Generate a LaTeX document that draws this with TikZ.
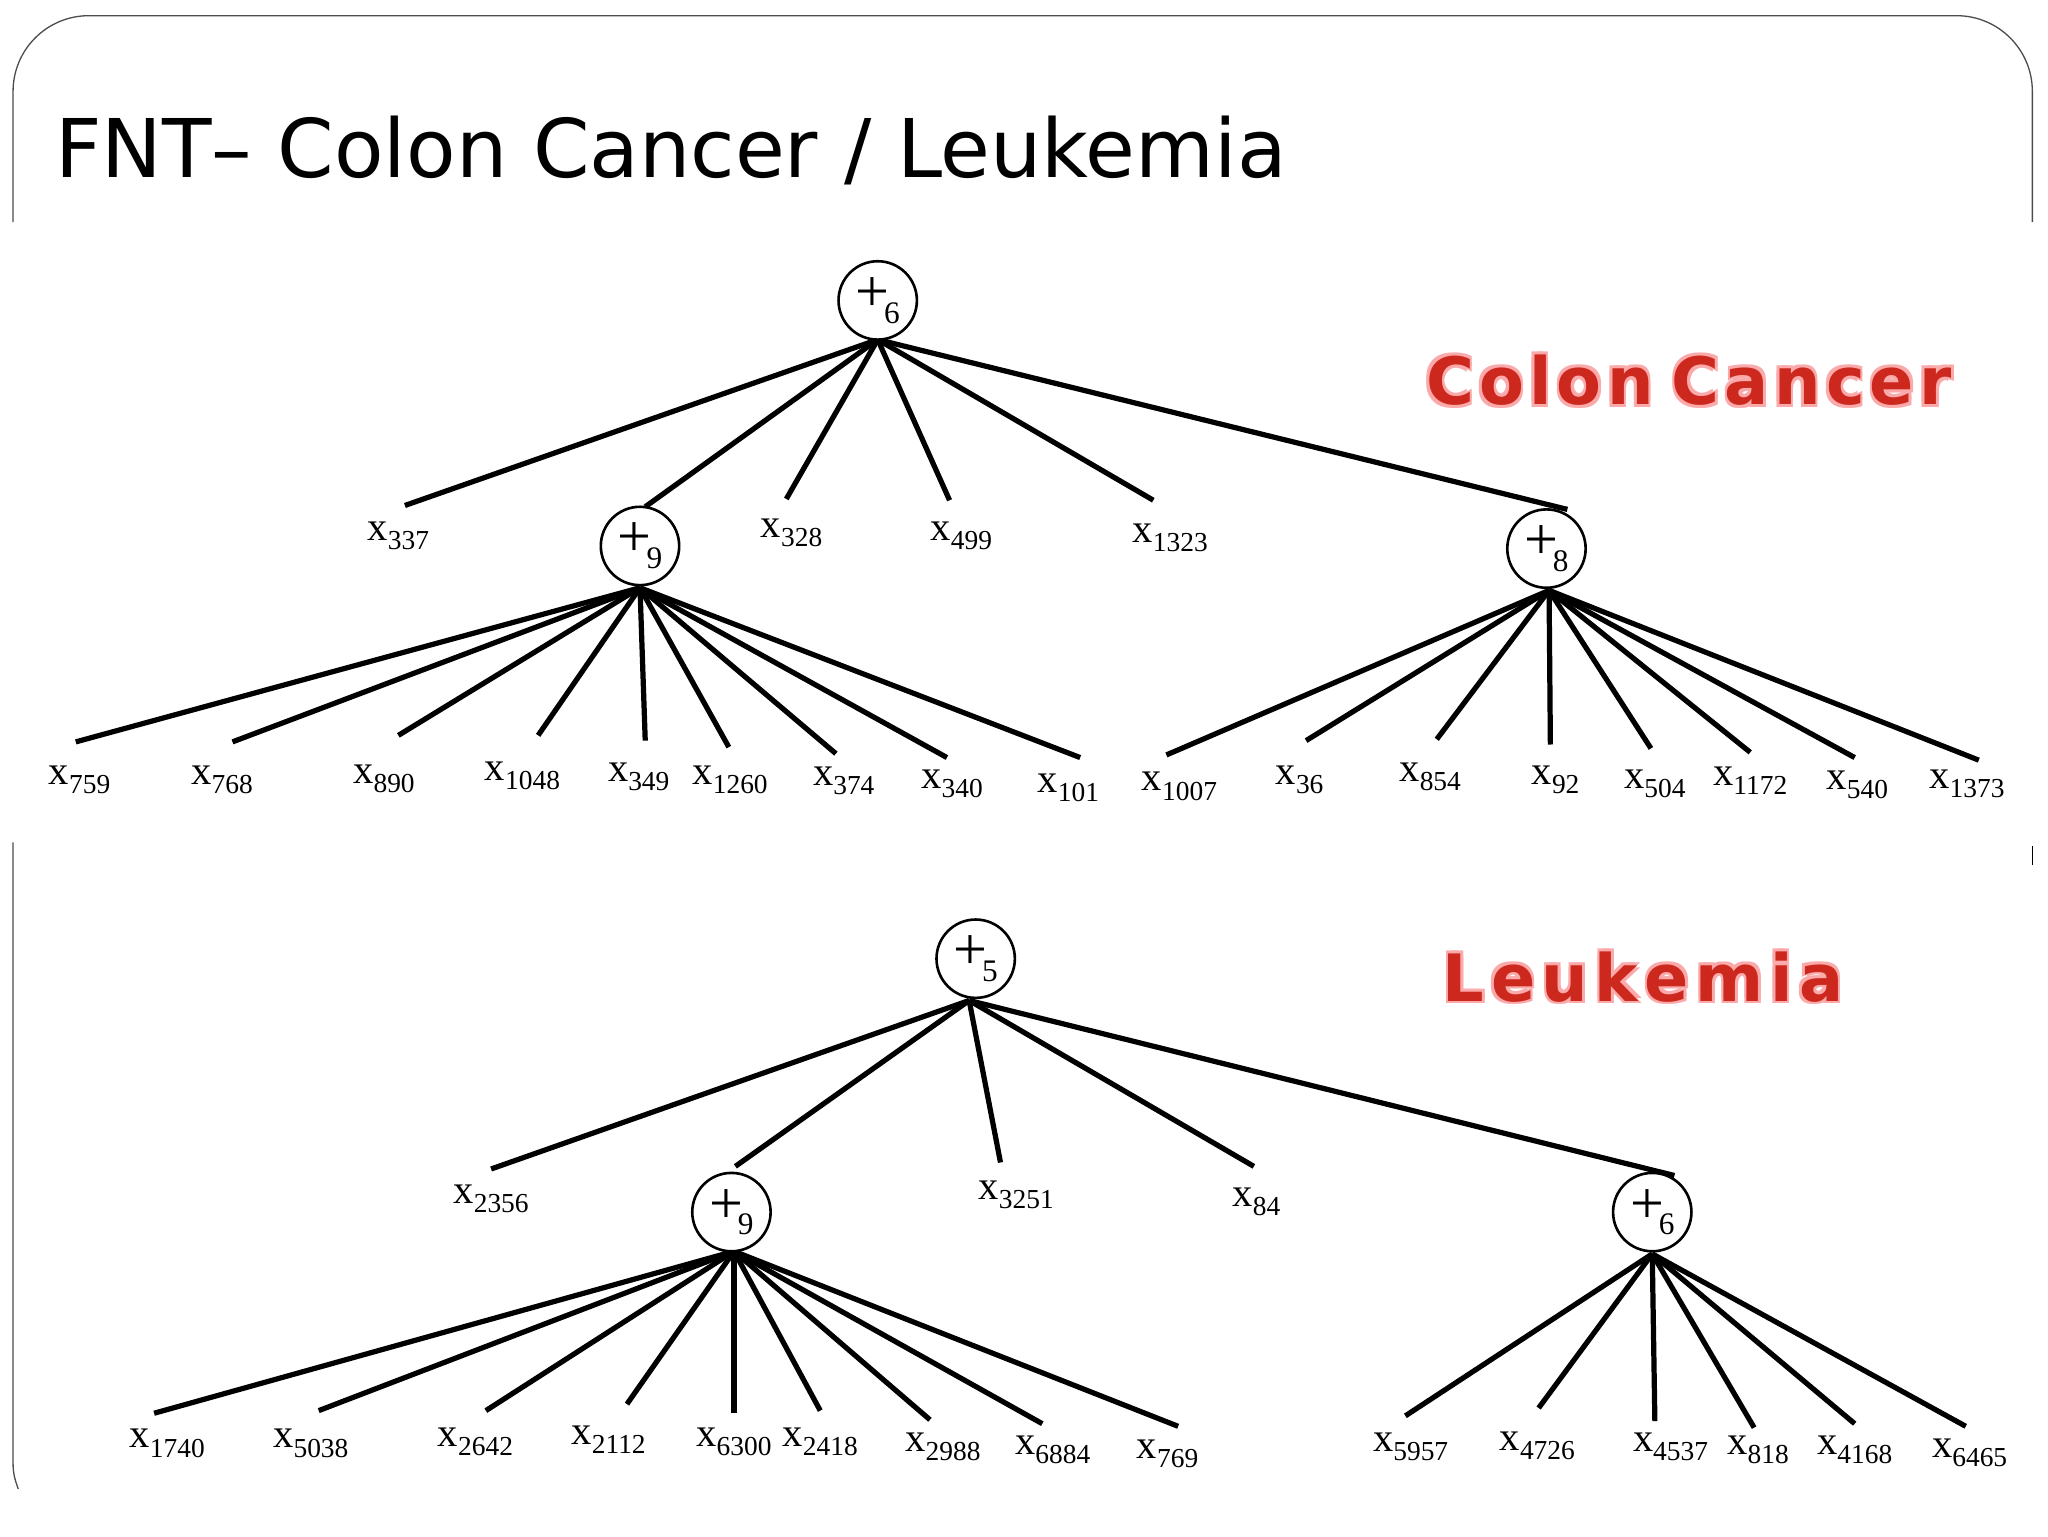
\documentclass[tikz,border=0pt]{standalone}
\usepackage{fontspec}
\setmainfont{Liberation Serif}
\newfontfamily\titlefont{DejaVu Sans}
\newfontfamily\redfont{DejaVu Sans}
\newcommand{\xl}[1]{{\fontsize{31}{31}\selectfont x}\raisebox{-7pt}{\fontsize{21}{21}\selectfont #1}}
\newcommand{\pl}[1]{{\fontsize{46}{46}\selectfont +}\kern-4pt\raisebox{-9pt}{\fontsize{24}{24}\selectfont #1}}
\definecolor{redt}{RGB}{205,40,30}
\definecolor{glow}{RGB}{250,170,170}
\begin{document}
\begin{tikzpicture}[x=1pt,y=-1pt,
  edge/.style={line width=4pt},
  opn/.style={circle,draw,line width=2pt,minimum size=60pt,inner sep=0pt,fill=white},
  lf/.style={inner sep=0pt,anchor=center},
  redlbl/.style={font=\redfont\bfseries\fontsize{50}{50}\selectfont,text=redt}]
\useasboundingbox (0,0) rectangle (1568,1176);
% frame
\draw[line width=1pt,gray!60!black,rounded corners=58pt] (10,170) -- (10,12) -- (1556,12) -- (1556,170);
\draw[line width=1pt,gray!60!black] (10,645) -- (10,1120) to[out=-90,in=110] (14,1140);
\draw[line width=1pt,black] (1556,648) -- (1556,662);
\node[anchor=base west,inner sep=0pt,font=\titlefont\fontsize{62}{62}\selectfont] (title) at (42,136) {FNT– Colon Cancer / Leukemia};
% red labels with glow
\foreach \dx/\dy in {-2/-2,2/2,-2/2,2/-2}{
 \node[redlbl,text=glow] at (1293+\dx,291+\dy) {C\kern4pt o\kern4pt l\kern4pt o\kern4pt n\kern14pt C\kern4pt a\kern4pt n\kern4pt c\kern4pt e\kern4pt r};
 \node[redlbl,text=glow] at (1258+\dx,748+\dy) {L\kern5pt e\kern5pt u\kern5pt k\kern5pt e\kern5pt m\kern5pt i\kern5pt a};}
\node[redlbl] (cc) at (1293,291) {C\kern4pt o\kern4pt l\kern4pt o\kern4pt n\kern14pt C\kern4pt a\kern4pt n\kern4pt c\kern4pt e\kern4pt r};
\node[redlbl] (lk) at (1258,748) {L\kern5pt e\kern5pt u\kern5pt k\kern5pt e\kern5pt m\kern5pt i\kern5pt a};
% ===== Colon tree =====
\coordinate (r1b) at (672,260);
\coordinate (a9t) at (494,388);
\coordinate (a8t) at (1200,390);
\foreach \n/\ex/\ey/\lx/\ly in {337/310/387/305/410,328/602/382/606/408,499/727/383/736/410,1323/883/383/896/412}{
  \coordinate (e\n) at (\ex,\ey);
  \node[lf] (l\n) at (\lx,\ly) {\xl{\n}};
  \draw[edge] (r1b) -- (e\n);}
\draw[edge] (r1b) -- (a9t);
\draw[edge] (r1b) -- (a8t);
\node[opn] (r1) at (672,230) {\pl{6}};
\coordinate (a9b) at (490,450);
\coordinate (a8b) at (1186,452);
\foreach \n/\ex/\ey/\lx/\ly in {759/58/568/61/597,768/178/568/170/597,890/305/563/294/596,1048/412/563/400/594,349/494/567/489/595,1260/558/572/559/597,374/640/577/646/598,340/725/580/729/600,101/827/580/818/603}{
  \coordinate (e\n) at (\ex,\ey);
  \node[lf] (l\n) at (\lx,\ly) {\xl{\n}};
  \draw[edge] (a9b) -- (e\n);}
\foreach \n/\ex/\ey/\lx/\ly in {1007/893/578/903/602,36/1000/567/995/597,854/1100/566/1095/595,92/1187/570/1191/597,504/1264/573/1267/600,1172/1340/576/1340/598,540/1420/580/1422/601,1373/1515/582/1506/600}{
  \coordinate (e\n) at (\ex,\ey);
  \node[lf] (l\n) at (\lx,\ly) {\xl{\n}};
  \draw[edge] (a8b) -- (e\n);}
\node[opn] (a9) at (490,418) {\pl{9}};
\node[opn] (a8) at (1184,420) {\pl{8}};
% ===== Leukemia tree =====
\coordinate (r2b) at (742,766);
\coordinate (b9t) at (563,893);
\coordinate (b6t) at (1282,900);
\foreach \n/\ex/\ey/\lx/\ly in {2356/376/895/376/918,3251/766/890/778/915,84/960/893/962/920}{
  \coordinate (f\n) at (\ex,\ey);
  \node[lf] (m\n) at (\lx,\ly) {\xl{\n}};
  \draw[edge] (r2b) -- (f\n);}
\draw[edge] (r2b) -- (b9t);
\draw[edge] (r2b) -- (b6t);
\node[opn] (r2) at (747,734) {\pl{5}};
\coordinate (b9b) at (562,958);
\coordinate (b6b) at (1265,960);
\foreach \n/\ex/\ey/\lx/\ly in {1740/118/1082/128/1105,5038/244/1080/238/1105,2642/372/1080/364/1104,2112/480/1075/466/1102,6300/562/1082/562/1104,2418/628/1080/628/1104,2988/712/1087/722/1108,6884/798/1090/806/1110,769/902/1092/894/1113}{
  \coordinate (f\n) at (\ex,\ey);
  \node[lf] (m\n) at (\lx,\ly) {\xl{\n}};
  \draw[edge] (b9b) -- (f\n);}
\foreach \n/\ex/\ey/\lx/\ly in {5957/1076/1084/1080/1108,4726/1178/1078/1177/1107,4537/1267/1088/1279/1108,818/1343/1093/1346/1110,4168/1420/1090/1420/1110,6465/1505/1092/1508/1112}{
  \coordinate (f\n) at (\ex,\ey);
  \node[lf] (m\n) at (\lx,\ly) {\xl{\n}};
  \draw[edge] (b6b) -- (f\n);}
\node[opn] (b9) at (560,928) {\pl{9}};
\node[opn] (b6) at (1265,928) {\pl{6}};
\end{tikzpicture}
\end{document}
